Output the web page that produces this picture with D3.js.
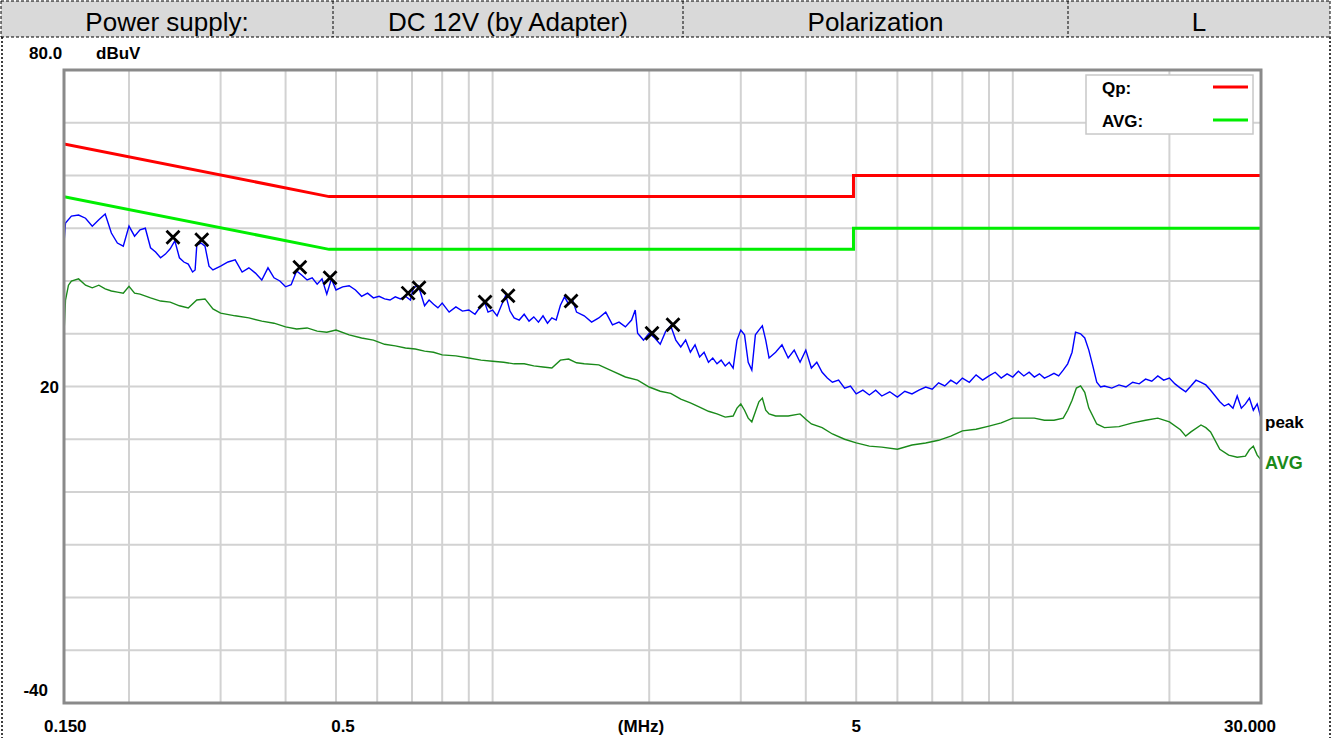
<!DOCTYPE html>
<html><head><meta charset="utf-8">
<script src="https://cdn.jsdelivr.net/npm/d3@7"></script>
<style>body{margin:0;background:#fff}svg{display:block}</style>
</head><body><svg id="c" width="1335" height="738"></svg>
<script>
const headerCells = ["Power supply:", "DC 12V (by Adapter)", "Polarization", "L"];
const xTickLabels = [[0.15,"0.150"],[0.5,"0.5"],[5,"5"],[30,"30.000"]];
const yTickLabels = [[80,"80.0"],[20,"20"],[-40,"-40"]];
const gridFreqs = [0.2,0.3,0.4,0.5,0.6,0.7,0.8,0.9,1,2,3,4,5,6,7,8,9,10,20];
const gridLevels = [70,60,50,40,30,20,10,0,-10,-20,-30];
const qpLimit = [[0.15,66],[0.485,56],[4.94,56],[4.94,60],[30,60]];
const avgLimit = [[0.15,56],[0.485,46],[4.94,46],[4.94,50],[30,50]];
const peakFreq = [0.150,0.151,0.155,0.160,0.165,0.170,0.175,0.180,0.185,0.190,0.195,0.200,0.205,0.210,0.215,0.220,0.225,0.230,0.235,0.240,0.245,0.250,0.255,0.260,0.265,0.268,0.270,0.275,0.280,0.285,0.290,0.300,0.310,0.320,0.330,0.340,0.350,0.360,0.370,0.380,0.390,0.400,0.410,0.420,0.430,0.440,0.450,0.460,0.470,0.480,0.490,0.500,0.515,0.530,0.545,0.560,0.575,0.590,0.605,0.620,0.635,0.650,0.665,0.680,0.695,0.705,0.720,0.740,0.755,0.770,0.785,0.800,0.825,0.850,0.875,0.900,0.925,0.950,0.965,0.980,1.00,1.02,1.04,1.06,1.08,1.10,1.125,1.15,1.175,1.20,1.225,1.25,1.275,1.30,1.325,1.35,1.375,1.40,1.425,1.45,1.50,1.55,1.60,1.65,1.70,1.75,1.80,1.85,1.88,1.90,1.95,2.00,2.05,2.10,2.15,2.20,2.25,2.30,2.35,2.40,2.45,2.50,2.55,2.60,2.65,2.70,2.75,2.80,2.85,2.90,2.95,3.00,3.05,3.10,3.15,3.20,3.25,3.30,3.35,3.40,3.50,3.60,3.70,3.80,3.90,4.00,4.10,4.20,4.30,4.40,4.50,4.625,4.75,4.875,5.00,5.15,5.30,5.45,5.60,5.80,6.00,6.20,6.40,6.60,6.80,7.00,7.20,7.40,7.60,7.80,8.00,8.25,8.50,8.75,9.00,9.25,9.50,9.75,10.0,10.25,10.5,10.75,11.0,11.25,11.5,11.75,12.0,12.25,12.5,12.75,13.0,13.2,13.5,13.75,14.0,14.25,14.5,14.75,15.0,15.5,16.0,16.5,17.0,17.5,18.0,18.5,19.0,19.5,20.0,20.5,21.0,21.5,22.0,22.5,23.0,23.5,24.0,24.5,25.0,25.5,26.0,26.5,27.0,27.5,28.0,28.5,29.0,29.5,30.0];
const peakVal = [47.2,51.0,52.3,52.5,51.9,50.4,51.6,52.7,49.1,47.2,46.6,50.4,48.5,49.7,50.0,46.3,45.5,44.4,45.1,46.1,47.6,44.4,43.6,43.2,41.7,42.1,46.8,47.2,46.6,42.8,42.1,42.8,43.6,44.0,41.7,42.5,41.5,40.2,42.5,40.6,40.0,38.9,39.3,41.9,41.1,40.2,40.6,39.4,40.4,37.5,40.4,38.3,38.9,39.1,38.3,37.1,37.7,36.8,37.1,36.6,36.4,37.0,36.6,37.1,36.4,38.8,39.1,35.3,36.4,35.6,34.9,35.8,34.1,35.1,34.3,34.5,33.7,35.3,36.0,34.1,34.5,33.4,35.4,37.3,34.3,33.0,32.6,33.7,32.4,33.2,32.2,33.4,32.0,33.0,32.6,35.4,37.0,35.6,36.4,34.1,33.4,32.2,33.0,34.1,31.7,32.2,31.3,32.6,34.5,30.1,28.8,30.1,29.2,28.0,30.4,31.5,28.8,27.5,28.8,26.5,27.9,25.6,26.5,24.6,25.4,24.3,25.0,23.9,24.6,23.5,28.8,30.7,29.8,24.6,23.1,29.8,30.7,31.5,28.8,25.4,26.5,27.9,25.4,26.9,24.6,26.9,23.5,24.6,22.7,21.6,20.8,21.2,19.7,20.1,18.6,19.3,18.4,19.3,18.2,19.0,18.0,19.1,18.6,19.3,19.9,19.5,20.7,20.1,21.2,20.5,21.6,20.8,22.2,21.2,22.0,22.7,21.6,22.4,21.8,22.9,22.0,22.7,21.8,22.4,21.6,22.0,22.5,22.0,23.1,24.3,26.5,30.3,30.0,29.2,26.9,23.9,20.8,19.9,20.1,19.7,20.3,19.9,20.8,20.5,21.4,21.0,22.0,21.2,21.6,20.5,19.7,19.0,20.1,21.2,20.8,20.3,19.3,18.2,17.1,16.3,16.7,15.9,18.2,15.9,16.7,17.8,15.5,16.7,14.0];
const avgFreq = [0.150,0.151,0.153,0.155,0.160,0.165,0.170,0.175,0.180,0.185,0.190,0.195,0.200,0.205,0.210,0.220,0.230,0.240,0.250,0.260,0.270,0.280,0.290,0.300,0.320,0.340,0.360,0.380,0.400,0.420,0.440,0.460,0.480,0.500,0.530,0.560,0.590,0.620,0.650,0.680,0.710,0.740,0.770,0.800,0.850,0.900,0.950,1.00,1.05,1.10,1.15,1.20,1.25,1.30,1.35,1.40,1.45,1.50,1.60,1.70,1.80,1.90,2.00,2.10,2.20,2.30,2.40,2.50,2.60,2.70,2.80,2.90,2.95,3.00,3.05,3.10,3.15,3.20,3.25,3.30,3.35,3.40,3.50,3.70,3.90,4.00,4.10,4.30,4.50,4.75,5.00,5.30,5.60,6.00,6.40,6.80,7.20,7.60,8.00,8.50,9.00,9.50,10.0,10.5,11.0,11.5,12.0,12.5,12.75,13.0,13.25,13.5,13.75,14.0,14.5,15.0,16.0,17.0,18.0,19.0,20.0,21.0,21.5,22.0,23.0,23.5,24.0,25.0,26.0,27.0,28.0,28.5,29.0,29.5,30.0];
const avgVal = [30.1,36.4,39.2,40.0,40.4,39.2,38.7,39.2,38.5,38.1,37.9,37.7,39.0,37.7,37.5,36.8,36.2,36.0,35.3,34.9,36.4,36.6,34.7,33.9,33.4,33.0,32.4,32.0,31.3,30.9,31.1,30.5,30.3,30.7,29.8,29.2,28.8,28.0,27.7,27.3,27.1,26.7,26.5,26.0,25.8,25.4,25.0,24.8,24.6,24.3,24.3,23.9,23.7,23.5,25.0,25.2,24.5,24.3,24.1,22.9,21.8,21.2,19.9,19.1,18.7,17.6,16.9,16.1,15.3,14.8,14.2,14.4,15.9,16.7,15.5,14.0,13.3,15.2,17.1,17.8,15.5,14.8,14.4,14.4,14.8,13.8,12.9,12.2,11.0,10.0,9.3,8.7,8.5,8.1,8.9,9.3,9.8,10.6,11.6,11.9,12.5,13.1,14.0,14.0,14.0,13.6,13.6,14.0,15.5,17.4,19.7,20.1,18.9,15.9,12.9,12.2,12.4,13.1,13.6,14.0,13.3,11.8,10.6,11.4,12.7,12.2,11.4,8.1,7.0,6.6,6.8,8.0,8.7,7.0,6.1];
const markerFreq = [0.243,0.276,0.426,0.487,0.688,0.722,0.967,1.071,1.415,2.025,2.222];
const markerVal = [48.3,47.8,42.6,40.6,37.7,38.7,36.0,37.2,36.2,30.1,31.7];
const legendItems = [["Qp:","#ff0000"],["AVG:","#00ee00"]];

const svg = d3.select("#c");
svg.append("rect").attr("width",1335).attr("height",738).attr("fill","#fff");

// header
const cellEdges = [1,333,683,1068,1330];
svg.append("rect").attr("x",1).attr("y",1).attr("width",1329).attr("height",36).attr("fill","#d9d9d9");
[1,37].forEach(y=>svg.append("line").attr("x1",1).attr("x2",1330).attr("y1",y).attr("y2",y).attr("stroke","#000").attr("stroke-dasharray","3,2"));
cellEdges.forEach(x=>svg.append("line").attr("x1",x).attr("x2",x).attr("y1",1).attr("y2",37).attr("stroke","#000").attr("stroke-dasharray","3,2"));
[2,1330].forEach(x=>svg.append("line").attr("x1",x).attr("x2",x).attr("y1",37).attr("y2",738).attr("stroke","#000").attr("stroke-width",1.5).attr("stroke-dasharray","2,2"));
headerCells.forEach((t,i)=>{
  svg.append("text").attr("x",(cellEdges[i]+cellEdges[i+1])/2).attr("y",31)
    .attr("text-anchor","middle").attr("font-family","Liberation Sans, Arial, sans-serif")
    .attr("font-size",26).attr("fill","#000").text(t);
});

const L=64,R=1261,T=70,B=703;
const x = d3.scaleLog().domain([0.15,30]).range([L,R]);
const y = d3.scaleLinear().domain([-40,80]).range([B,T]);

const g = svg.append("g");
g.selectAll(".vg").data(gridFreqs).enter().append("line")
  .attr("x1",d=>x(d)).attr("x2",d=>x(d)).attr("y1",T).attr("y2",B).attr("stroke","#d2d2d2").attr("stroke-width",2);
g.selectAll(".hg").data(gridLevels).enter().append("line")
  .attr("x1",L).attr("x2",R).attr("y1",d=>y(d)).attr("y2",d=>y(d)).attr("stroke","#d2d2d2").attr("stroke-width",2);

svg.append("defs").append("clipPath").attr("id","pc").append("rect").attr("x",L).attr("y",T).attr("width",R-L).attr("height",B-T);

const line = d3.line().x(d=>x(d[0])).y(d=>y(d[1]));
const plot = svg.append("g").attr("clip-path","url(#pc)");
plot.append("path").datum(qpLimit).attr("d",line).attr("fill","none").attr("stroke","#ff0000").attr("stroke-width",3);
plot.append("path").datum(avgLimit).attr("d",line).attr("fill","none").attr("stroke","#00ee00").attr("stroke-width",3);
plot.append("path").datum(avgFreq.map((f,i)=>[f,avgVal[i]])).attr("d",line).attr("fill","none").attr("stroke","#1a8a1a").attr("stroke-width",1.4);
plot.append("path").datum(peakFreq.map((f,i)=>[f,peakVal[i]])).attr("d",line).attr("fill","none").attr("stroke","#0000ff").attr("stroke-width",1.4);

// markers
markerFreq.forEach((f,i)=>{
  const cx=x(f), cy=y(markerVal[i]), s=6.5;
  plot.append("path").attr("d",`M${cx-s},${cy-s}L${cx+s},${cy+s}M${cx+s},${cy-s}L${cx-s},${cy+s}`)
    .attr("stroke","#000").attr("stroke-width",2.8).attr("fill","none");
});

// frame
svg.append("rect").attr("x",L).attr("y",T).attr("width",R-L).attr("height",B-T).attr("fill","none").attr("stroke","#8a8a8a").attr("stroke-width",3);

// legend
svg.append("rect").attr("x",1086).attr("y",75).attr("width",167).attr("height",59).attr("fill","#fff").attr("stroke","#c8c8c8").attr("stroke-width",1.5);
legendItems.forEach((d,i)=>{
  const yy = 94 + i*33;
  svg.append("text").attr("x",1102).attr("y",yy).attr("font-family","Liberation Sans, Arial, sans-serif").attr("font-weight","bold").attr("font-size",17).text(d[0]);
  svg.append("line").attr("x1",1213).attr("x2",1248).attr("y1",yy-7).attr("y2",yy-7).attr("stroke",d[1]).attr("stroke-width",3);
});

// axis labels
const lab = (t,xx,yy,anchor,col,size)=>svg.append("text").attr("x",xx).attr("y",yy).attr("text-anchor",anchor||"start")
  .attr("font-family","Liberation Sans, Arial, sans-serif").attr("font-weight","bold").attr("font-size",size||17).attr("fill",col||"#000").text(t);
lab(yTickLabels[0][1],29,59);
lab("dBuV",96,59);
lab(yTickLabels[1][1],59,y(yTickLabels[1][0])+6,"end");
lab(yTickLabels[2][1],48,y(yTickLabels[2][0])-7,"end");
xTickLabels.forEach(([f,t],i)=>{
  const anchor = i===0?"start":(i===xTickLabels.length-1?"end":"middle");
  const xx = i===0?44:(i===xTickLabels.length-1?1276:x(f)+(i===1?7:0));
  lab(t,xx,732,anchor);
});
lab("(MHz)",641,732,"middle");
lab("peak",1265,428,"start","#000",17);
lab("AVG",1265,469,"start","#1a8a1a",18);
</script></body></html>
